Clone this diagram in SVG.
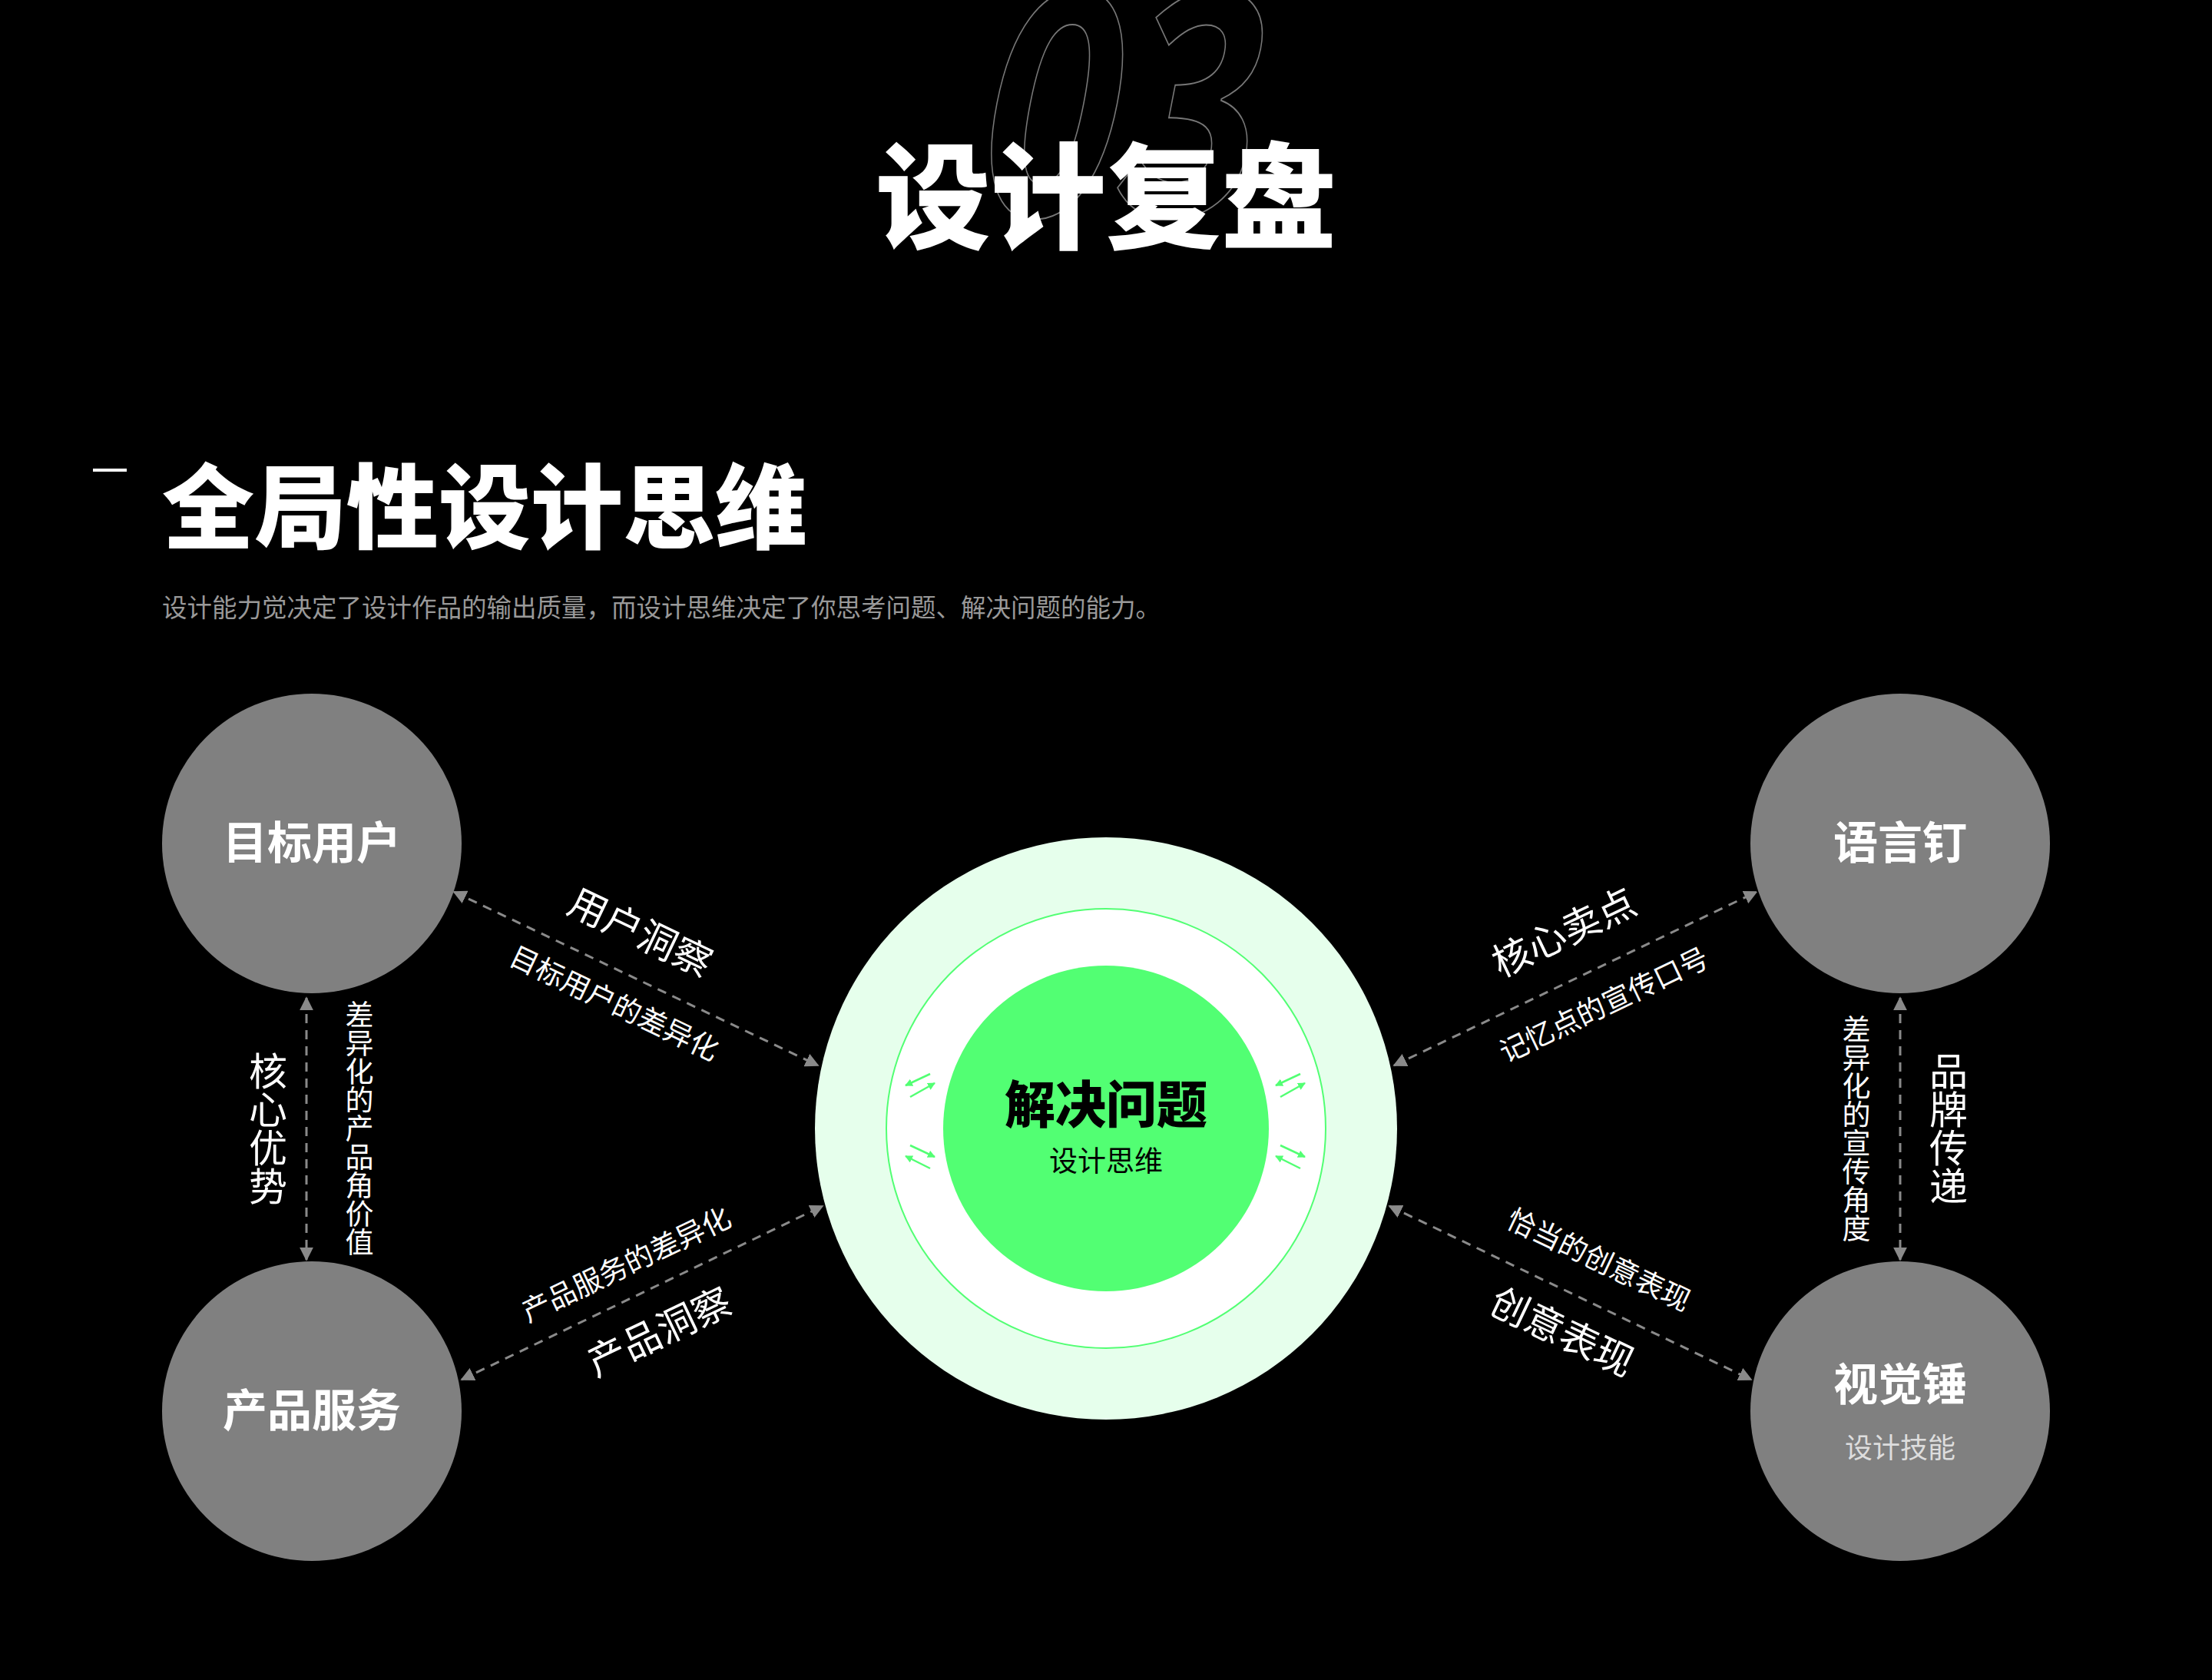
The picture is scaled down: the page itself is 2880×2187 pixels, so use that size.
<svg xmlns="http://www.w3.org/2000/svg" width="2880" height="2187" viewBox="0 0 2880 2187">
<defs>
<marker id="ga" viewBox="0 0 10 10" refX="9" refY="5" markerWidth="6" markerHeight="6" orient="auto-start-reverse"><path d="M0,0L10,5L0,10z" fill="#8a8a8a"/></marker>
<marker id="gr" viewBox="0 0 10 10" refX="9" refY="5" markerWidth="4" markerHeight="4" orient="auto"><path d="M0,0L10,5L0,10z" fill="#52ff73"/></marker>
<style>
text{font-family:"Noto Sans CJK SC","Noto Sans",sans-serif}
.node{fill:#808080}
.nl{fill:#fff;font-size:58px;font-weight:700;text-anchor:middle}
.big{fill:#fff;font-size:50px;text-anchor:middle}
.sm{fill:#fff;font-size:37px;text-anchor:middle}
.dash{stroke:#8a8a8a;stroke-width:3;stroke-dasharray:12 9;fill:none}
.g{stroke:#52ff73;stroke-width:2.5;fill:none}
.v{writing-mode:vertical-rl}
</style>
</defs>
<rect width="2880" height="2187" fill="#000"/>
<text transform="translate(1440,280) scale(0.78,1)" font-family="Liberation Sans,sans-serif" font-size="400" font-weight="700" font-style="italic" fill="none" stroke="#777" stroke-width="2" text-anchor="middle">03</text>
<text x="1440" y="312" fill="#fff" font-size="150" font-weight="900" text-anchor="middle">设计复盘</text>
<rect x="121" y="610" width="44" height="4" fill="#fff"/>
<text x="211" y="705" fill="#fff" font-size="120" font-weight="900">全局性设计思维</text>
<text x="211" y="803" fill="#999" font-size="32.5">设计能力觉决定了设计作品的输出质量，而设计思维决定了你思考问题、解决问题的能力。</text>
<g id="connectors">
<line class="dash" x1="591" y1="1161" x2="1065" y2="1387" marker-start="url(#ga)" marker-end="url(#ga)"/>
<line class="dash" x1="601" y1="1796" x2="1071" y2="1570" marker-start="url(#ga)" marker-end="url(#ga)"/>
<line class="dash" x1="1815" y1="1387" x2="2287" y2="1161" marker-start="url(#ga)" marker-end="url(#ga)"/>
<line class="dash" x1="1809" y1="1570" x2="2280" y2="1796" marker-start="url(#ga)" marker-end="url(#ga)"/>
<line class="dash" x1="399" y1="1299" x2="399" y2="1640" marker-start="url(#ga)" marker-end="url(#ga)"/>
<line class="dash" x1="2474" y1="1299" x2="2474" y2="1640" marker-start="url(#ga)" marker-end="url(#ga)"/>
<text class="big" transform="translate(826,1230) rotate(25.5)">用户洞察</text>
<text class="sm" transform="translate(794,1318) rotate(25.5)">目标用户的差异化</text>
<text class="sm" transform="translate(821,1658) rotate(-25.5)">产品服务的差异化</text>
<text class="big" transform="translate(866,1750) rotate(-25.5)">产品洞察</text>
<text class="big" transform="translate(2044,1230) rotate(-25.5)">核心卖点</text>
<text class="sm" transform="translate(2094,1320) rotate(-25.5)">记忆点的宣传口号</text>
<text class="sm" transform="translate(2076,1652) rotate(25.5)">恰当的创意表现</text>
<text class="big" transform="translate(2026,1750) rotate(25.5)">创意表现</text>
<text class="big v" x="349" y="1469">核心优势</text>
<text class="sm v" x="468" y="1469">差异化的产品角价值</text>
<text class="sm v" x="2417" y="1469">差异化的宣传角度</text>
<text class="big v" x="2537" y="1469">品牌传递</text>
</g>
<g id="center">
<circle cx="1440" cy="1469" r="379" fill="#e6ffec"/>
<circle cx="1440" cy="1469" r="286" fill="#fff" stroke="#52ff73" stroke-width="2"/>
<circle cx="1440" cy="1469" r="212" fill="#52ff73"/>
<text x="1440" y="1462" font-size="66" font-weight="900" fill="#000" text-anchor="middle">解决问题</text>
<text x="1440" y="1525" font-size="37" fill="#000" text-anchor="middle">设计思维</text>
<line class="g" x1="1211" y1="1398" x2="1179" y2="1413" marker-end="url(#gr)"/>
<line class="g" x1="1185" y1="1428" x2="1217" y2="1410" marker-end="url(#gr)"/>
<line class="g" x1="1185" y1="1491" x2="1217" y2="1506" marker-end="url(#gr)"/>
<line class="g" x1="1211" y1="1521" x2="1179" y2="1505" marker-end="url(#gr)"/>
<line class="g" x1="1693" y1="1398" x2="1661" y2="1413" marker-end="url(#gr)"/>
<line class="g" x1="1667" y1="1428" x2="1699" y2="1410" marker-end="url(#gr)"/>
<line class="g" x1="1667" y1="1491" x2="1699" y2="1506" marker-end="url(#gr)"/>
<line class="g" x1="1693" y1="1521" x2="1661" y2="1505" marker-end="url(#gr)"/>
</g>
<g id="n1"><circle class="node" cx="406" cy="1098" r="195"/><text class="nl" x="406" y="1118">目标用户</text></g>
<g id="n2"><circle class="node" cx="406" cy="1837" r="195"/><text class="nl" x="406" y="1857">产品服务</text></g>
<g id="n3"><circle class="node" cx="2474" cy="1098" r="195"/><text class="nl" x="2474" y="1118">语言钉</text></g>
<g id="n4"><circle class="node" cx="2474" cy="1837" r="195"/><text class="nl" x="2474" y="1823">视觉锤</text><text x="2474" y="1898" font-size="36" fill="#ddd" text-anchor="middle">设计技能</text></g>
</svg>
